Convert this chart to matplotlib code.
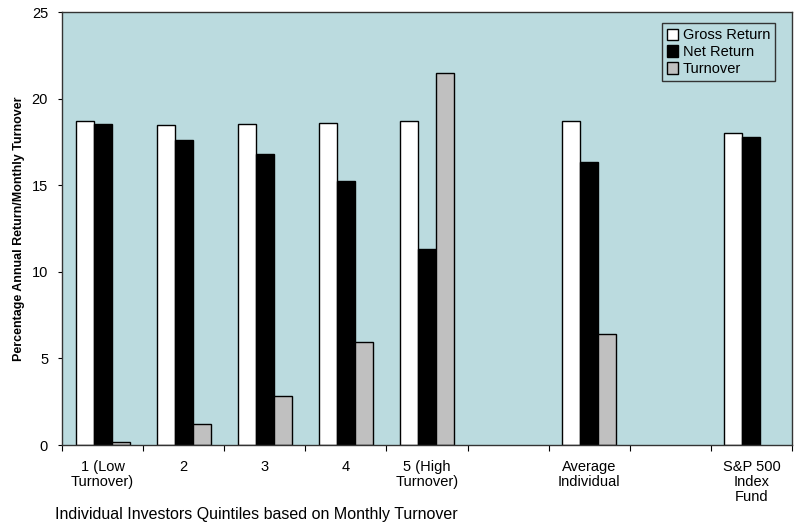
import numpy as np
import matplotlib
matplotlib.use('Agg')
from matplotlib import pyplot as plt

plt.rcParams['font.family'] = ['Liberation Sans', 'DejaVu Sans']

categories = ['1 (Low\nTurnover)', '2', '3', '4', '5 (High\nTurnover)', '',
              'Average\nIndividual', '', 'S&P 500\nIndex\nFund']
gross = [18.7, 18.5, 18.55, 18.6, 18.7, np.nan, 18.7, np.nan, 18.0]
net = [18.55, 17.6, 16.8, 15.25, 11.35, np.nan, 16.35, np.nan, 17.8]
turnover = [0.2, 1.2, 2.85, 5.95, 21.5, np.nan, 6.4, np.nan, np.nan]

bg = '#bbdbdf'
fig = plt.figure(figsize=(8, 5.32), dpi=100)
ax = fig.add_axes([0.0775, 0.1635, 0.9125, 0.8135])
ax.set_facecolor(bg)

x = np.arange(len(categories))
w = 0.222
b1 = ax.bar(x - w, gross, w, color='white', edgecolor='black', linewidth=1, label='Gross Return')
b2 = ax.bar(x, net, w, color='black', edgecolor='black', linewidth=1, label='Net Return')
b3 = ax.bar(x + w, turnover, w, color='#c0c0c0', edgecolor='black', linewidth=1, label='Turnover')

ax.set_xlim(-0.5, len(categories) - 0.5)
ax.set_ylim(0, 25)
ax.set_yticks([0, 5, 10, 15, 20, 25])
ax.tick_params(axis='y', labelsize=10.5, length=3, pad=7)

# tick marks between categories, labels at centers
ax.set_xticks(np.arange(-0.5, len(categories), 1.0))
ax.set_xticklabels([])
ax.tick_params(axis='x', which='major', length=4, direction='out')
ax.set_xticks(x, minor=True)
ax.set_xticklabels(categories, minor=True, fontsize=10.5, linespacing=1.1)
ax.tick_params(axis='x', which='minor', length=0, pad=11)

for s in ax.spines.values():
    s.set_linewidth(1)
    s.set_color('#333333')

ax.set_ylabel('Percentage Annual Return/Monthly Turnover', fontsize=9, fontweight='bold')
ax.yaxis.set_label_coords(-0.051, 0.5)
fig.text(0.069, 0.032, 'Individual Investors Quintiles based on Monthly Turnover',
         fontsize=11.5, va='center')

leg = ax.legend(loc='upper right', bbox_to_anchor=(0.977, 0.975), fontsize=10.5, fancybox=False,
                edgecolor='#333333', facecolor=bg, framealpha=1, handlelength=0.8,
                handleheight=0.8, handletextpad=0.3, labelspacing=0.2, borderpad=0.35,
                borderaxespad=0)
leg.get_frame().set_linewidth(1)

fig.savefig('out.png', dpi=100)
